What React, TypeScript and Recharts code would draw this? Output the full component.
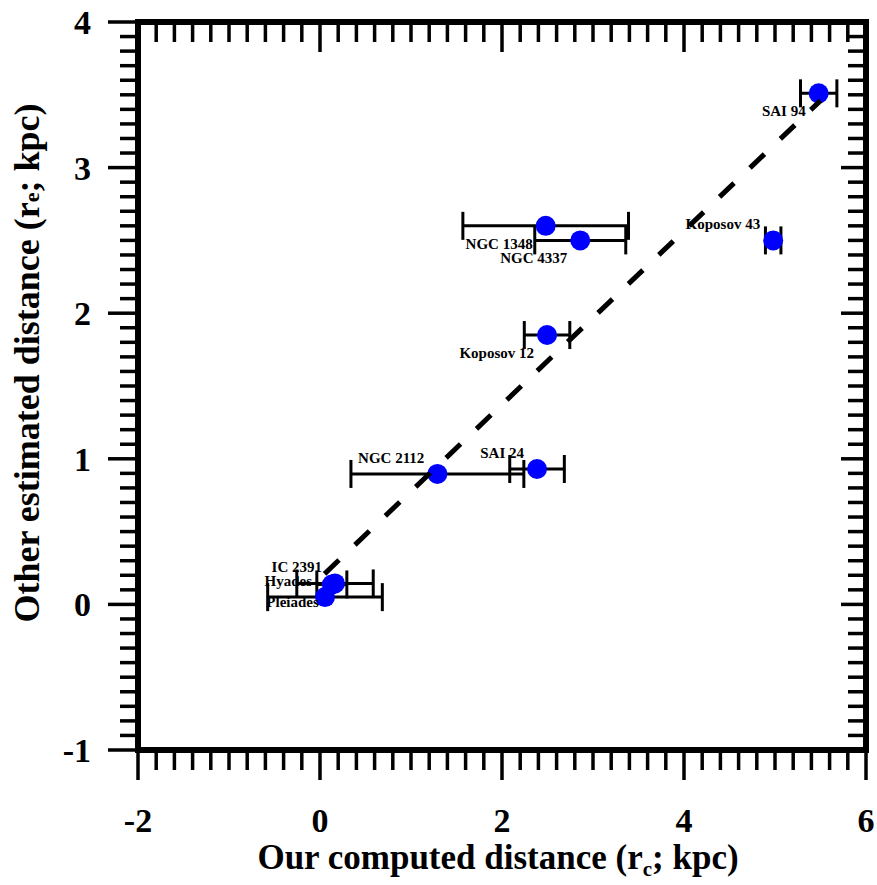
import React from 'react';
import { ScatterChart, Scatter, XAxis, YAxis, ErrorBar, ReferenceArea } from 'recharts';

// cluster names, our computed distance (rc), its error and the other estimate (re), kpc
const clusters = ['Hyades', 'Pleiades', 'IC 2391', 'NGC 2112', 'SAI 24', 'Koposov 12', 'NGC 1348', 'NGC 4337', 'Koposov 43', 'SAI 94'];
const computedDist = [0.055, 0.13, 0.165, 1.29, 2.385, 2.495, 2.48, 2.86, 4.98, 5.48];
const computedErr = [0.63, 0.165, 0.42, 0.95, 0.3, 0.25, 0.91, 0.5, 0.085, 0.2];
const otherDist = [0.05, 0.137, 0.144, 0.896, 0.93, 1.85, 2.6, 2.5, 2.5, 3.51];

// dashed fit line, end points
const fitX = [0.05, 5.5];
const fitY = [0.21, 3.46];

const xMajor = [-2, 0, 2, 4, 6];
const yMajor = [-1, 0, 1, 2, 3, 4];

// which side of the point each name sits on
const labelAbove = ['Hyades', 'IC 2391', 'NGC 2112', 'SAI 24', 'Koposov 43'];

const FONT = '"Liberation Serif", "Times New Roman", serif';

const xTicks: number[] = [];
for (let i = 0; i <= 40; i++) xTicks.push(Math.round((-2 + i * 0.2) * 10) / 10);
const yTicks: number[] = [];
for (let i = 0; i <= 50; i++) yTicks.push(Math.round((-1 + i * 0.1) * 10) / 10);

const points = clusters.map((name, i) => ({
  name,
  x: computedDist[i],
  y: otherDist[i],
  err: computedErr[i],
}));
const fitLine = fitX.map((x, i) => ({ x, y: fitY[i] }));

const isMajor = (v: number, list: number[]) => list.some((m) => Math.abs(m - v) < 1e-6);

const BottomTick = (props: any) => {
  const { x, y, payload } = props;
  const major = isMajor(payload.value, xMajor);
  return (
    <g>
      <line x1={x} x2={x} y1={y} y2={y + (major ? 30 : 20)} stroke="#000" strokeWidth={3.5} />
      {major && (
        <text x={x} y={y + 82} textAnchor="middle" fontFamily={FONT} fontWeight="bold" fontSize={34} fill="#000">
          {payload.value}
        </text>
      )}
    </g>
  );
};

const TopTick = (props: any) => {
  const { x, y, payload } = props;
  const major = isMajor(payload.value, xMajor);
  return <line x1={x} x2={x} y1={y} y2={y + (major ? 30 : 20)} stroke="#000" strokeWidth={3.5} />;
};

const LeftTick = (props: any) => {
  const { x, y, payload } = props;
  const major = isMajor(payload.value, yMajor);
  return (
    <g>
      <line x1={x} x2={x - (major ? 30 : 18)} y1={y} y2={y} stroke="#000" strokeWidth={3.5} />
      {major && (
        <text x={x - 47} y={y + 12} textAnchor="end" fontFamily={FONT} fontWeight="bold" fontSize={34} fill="#000">
          {payload.value}
        </text>
      )}
    </g>
  );
};

const RightTick = (props: any) => {
  const { x, y, payload } = props;
  const major = isMajor(payload.value, yMajor);
  return <line x1={x} x2={x - (major ? 25 : 18)} y1={y} y2={y} stroke="#000" strokeWidth={3.5} />;
};

const ClusterDot = (props: any) => {
  const { cx, cy, payload } = props;
  const above = labelAbove.includes(payload.name);
  return (
    <g>
      <circle cx={cx} cy={cy} r={10} fill="#0000FF" />
      <text
        x={cx - 13}
        y={cy + (above ? -11 : 23)}
        textAnchor="end"
        fontFamily={FONT}
        fontWeight="bold"
        fontSize={15}
        fill="#000"
      >
        {payload.name}
      </text>
    </g>
  );
};

const NoShape = () => <g />;

const XTitle = () => (
  <text x={498} y={869} textAnchor="middle" fontFamily={FONT} fontWeight="bold" fontSize={35} fill="#000">
    Our computed distance (r
    <tspan fontSize={21} dy={7}>c</tspan>
    <tspan dy={-7}>; kpc)</tspan>
  </text>
);

const YTitle = () => (
  <text
    x={0}
    y={0}
    transform="translate(39, 363) rotate(-90)"
    textAnchor="middle"
    fontFamily={FONT}
    fontWeight="bold"
    fontSize={36}
    fill="#000"
  >
    Other estimated distance (r<tspan fontSize={22}>e</tspan>; kpc)
  </text>
);

export default function App() {
  return (
    <div style={{ position: 'absolute', left: 0, top: 0, background: '#fff' }}>
      <ScatterChart width={877} height={885} margin={{ top: 0, right: 0, bottom: 0, left: 0 }}>
        <XAxis
          xAxisId="bottom"
          dataKey="x"
          type="number"
          domain={[-2, 6]}
          ticks={xTicks}
          interval={0}
          allowDataOverflow
          height={135}
          tickSize={0}
          tickMargin={0}
          axisLine={false}
          tickLine={false}
          tick={BottomTick}
          label={{ content: XTitle }}
        />
        <XAxis
          xAxisId="top"
          orientation="top"
          dataKey="x"
          type="number"
          domain={[-2, 6]}
          ticks={xTicks}
          interval={0}
          allowDataOverflow
          height={22}
          tickSize={0}
          tickMargin={0}
          axisLine={false}
          tickLine={false}
          tick={TopTick}
        />
        <YAxis
          yAxisId="left"
          dataKey="y"
          type="number"
          domain={[-1, 4]}
          ticks={yTicks}
          interval={0}
          allowDataOverflow
          width={138}
          tickSize={0}
          tickMargin={0}
          axisLine={false}
          tickLine={false}
          tick={LeftTick}
          label={{ content: YTitle }}
        />
        <YAxis
          yAxisId="right"
          orientation="right"
          dataKey="y"
          type="number"
          domain={[-1, 4]}
          ticks={yTicks}
          interval={0}
          allowDataOverflow
          width={11}
          tickSize={0}
          tickMargin={0}
          axisLine={false}
          tickLine={false}
          tick={RightTick}
        />
        <Scatter
          data={points}
          xAxisId="bottom"
          yAxisId="left"
          shape={ClusterDot}
          isAnimationActive={false}
        />
        <Scatter data={points} xAxisId="bottom" yAxisId="left" shape={NoShape} isAnimationActive={false}>
          <ErrorBar dataKey="err" direction="x" width={14} stroke="#000" strokeWidth={3} />
        </Scatter>
        <Scatter
          data={fitLine}
          xAxisId="top"
          yAxisId="right"
          shape={NoShape}
          line={{ stroke: '#000', strokeWidth: 5, strokeDasharray: '20 22' }}
          lineType="joint"
          isAnimationActive={false}
        />
        <ReferenceArea
          xAxisId="bottom"
          yAxisId="left"
          x1={-2}
          x2={6}
          y1={-1}
          y2={4}
          fill="none"
          stroke="#000"
          strokeWidth={6}
        />
      </ScatterChart>
    </div>
  );
}
